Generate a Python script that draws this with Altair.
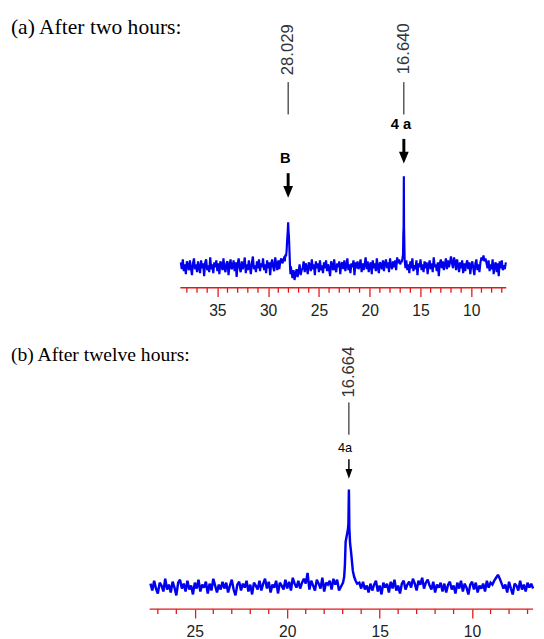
import altair as alt
import numpy as np
import pandas as pd

# ---------------- data: panel (a) ----------------
a_title = "(a) After two hours:"
a_grid_start, a_grid_step = 38.6, 0.1          # ppm of first noise sample, spacing
a_noise = [
    4, -3, 7, -5, 2, -8, 5, 1, -4, 6, -2, -9, 3, 8, -3, 2, -6, 5, -1, -7,
    6, -2, 3, -10, 4, 7, -4, 1, -6, 9, -3, 2, -7, 4, -1, 6, -5, 3, -8, 5,
    2, -4, 8, -2, -6, 3, 5, -9, 1, 7, -3, -1, 6, -5, 4, -11, 3, 8, -2, -6,
    5, -3, 1, 9, -7, 2, -4, 6, -1, -8, 4, 10, -3, 1, -6, 5, -2, 7, -5, 3,
    -1, 8, -4, 2, -7, 6, -2, 4, -9, 3, 7, -1, -5, 9, 2, -4, 6, -3, 5, 8,
    3, 6, 10, 0, 0, 0, 0, 0, 0, -6, -12, -4, -14, -8, -3, -11, -5, 2, -9, -4,
    -2, 5, -6, 3, -1, -8, 4, 1, -5, 7, -3, 2, -9, 5, -2, 3, -6, 6, -4, 1,
    -7, 4, -2, 6, -5, 2, -3, -10, 5, 1, -4, 7, -2, -6, 3, -1, 5, -8, 2, 4,
    -3, 6, -5, 1, 8, -4, 2, -7, 3, -1, 6, -9, 4, -2, 5, -3, 1, 7, -6, 3,
    -4, 2, 9, -3, 5, -6, 1, 4, -8, 6, -2, 3, -5, 8, -1, -7, 4, 2, -3, 6,
    -5, 3, 7, -2, 4, -6, 8, 1, -3, 5, -1, 6, -4, 9, 3, 7, 2, 5, 0, 0,
    0, 0, 6, -4, 2, -7, 5, -2, 8, -5, 1, -3, 6, -9, 3, -1, 7, -4, 2, -6,
    5, -2, 4, -8, 1, 6, -3, 3, -6, 9, -1, 2, -5, 4, -10, 3, 7, -2, 5, -4,
    2, 8, -3, 6, -1, 4, 10, 3, -2, 9, 5, -4, 7, 1, -6, 4, -2, 6, -7, 3,
    -5, 2, 6, -3, 4, -8, 1, 5, -2, -9, 3, 7, -4, 2, -6, 4, 9, 6, 11, 5,
    8, 3, -2, 6, -5, 2, -3, 7, -8, 1, 4, -6, 3, -10, 5, -2, 6, -4, 1, -3,
    4,
]
# peak B
a_pkB_ppm = [28.36, 28.30, 28.24, 28.18, 28.12, 28.07, 28.029, 27.99, 27.95, 27.92, 27.88, 27.84, 27.80, 27.76]
a_pkB_int = [5, 12, 10, 16, 28, 36, 45, 36, 30, 22, 10, -2, -8, 0]
# peak 4a
a_pk4_ppm = [16.86, 16.78, 16.72, 16.69, 16.665, 16.640, 16.62, 16.60, 16.56, 16.48]
a_pk4_int = [4, 8, 12, 34, 40, 92, 40, 30, 6, -2]
a_windows = [(28.029, 0.3), (16.64, 0.2)]

a_major = [35, 30, 25, 20, 15, 10]
a_minor = [38, 37, 36, 34, 33, 32, 31, 29, 28, 27, 26, 24, 23, 22, 21,
           19, 18, 17, 16, 14, 13, 12, 11, 9, 8, 7]
a_span = [38.64, 6.56]
a_shift_ppm = [28.029, 16.640]
a_shift_txt = ["28.029", "16.640"]
a_names = ["B", "4 a"]

# ---------------- data: panel (b) ----------------
b_title = "(b) After twelve hours:"
b_grid_start, b_grid_step = 27.4, 0.1
b_noise = [
    3, -4, 6, -2, -7, 4, 1, -5, 8, -3, 2, -6, 5, -1, -9, 4, 7, -2, 3, -5,
    6, -3, 1, -8, 4, -2, 7, -5, 2, -1, 5, -7, 3, -4, 8, 1, -6, 2, -3, 5,
    -2, 4, -6, 1, 7, -3, -9, 2, 5, -4, 3, -1, 6, -5, 2, -8, 4, 1, -3, 6,
    -4, 3, 8, -2, 5, -6, 2, -1, 6, -7, 4, 1, -3, 7, -2, 5, -4, 9, 3, -1,
    6, -2, 4, 8, 3, 14, -3, 6, 1, -4, 7, 3, -2, 9, -5, 4, 2, 6, -3, 8,
    2, 7, -4, 0, 0, 0, 0, 0, 0, 0, 0, 0, 0, 4, -2, 5, -3, 1, -6, 3,
    -4, 2, 6, -5, 1, -8, 4, -1, 3, -6, 5, -2, 7, -4, 1, -7, 3, 6, -3, 2,
    5, -1, 8, 3, -4, 6, 2, 9, -2, 4, 7, 1, -3, 5, -6, 2, -1, 4, -5, 3,
    -6, 2, 5, -3, 1, -7, 4, -2, 6, -5, 3, -1, -8, 2, 5, -3, 4, -6, 1, -2,
    3, -5, 6, -1, 4, 2, 6, 9, 12, 8, 3, -2, 2, -6, 5, -2, -8, 3, 1, -4,
    6, -3, 2, -5, 4, -1, 3, -2,
]
b_pk_ppm = [16.98, 16.92, 16.88, 16.84, 16.78, 16.72, 16.69, 16.664, 16.64, 16.60,
            16.55, 16.50, 16.45, 16.38, 16.30, 16.22]
b_pk_int = [4, 10, 22, 46, 52, 58, 64, 99, 60, 44, 36, 26, 16, 10, 6, 3]
b_windows = [(16.664, 0.5)]

b_major = [25, 20, 15, 10]
b_minor = [27, 26, 24, 23, 22, 21, 19, 18, 17, 16, 14, 13, 12, 11, 9, 8, 7]
b_span = [27.44, 6.70]
b_shift_ppm = [16.664]
b_shift_txt = ["16.664"]
b_names = ["4a"]

# ---------------- styling / layout ----------------
BLUE = "#0000ee"
RED = "#e01818"
INK = "#222222"
W = 536


def spectrum(start, step, noise, windows, pk_lists):
    ppm = np.round(start - step * np.arange(len(noise)), 3)
    df = pd.DataFrame({"ppm": ppm, "I": noise})
    keep = np.ones(len(df), dtype=bool)
    for c, w in windows:
        keep &= np.abs(df["ppm"].values - c) >= w
    parts = [df[keep]] + [pd.DataFrame({"ppm": p, "I": v}) for p, v in pk_lists]
    return pd.concat(parts).sort_values("ppm", ascending=False).reset_index(drop=True)


def panel(spec, H, xdom, ydom, major, minor, span, title, title_y, title_size,
          shifts, shift_txt, names, lv, name_style, arrow_w, head_size, head_path, lw):
    xs = alt.Scale(domain=xdom, reverse=True, nice=False, zero=False)
    ys = alt.Scale(domain=ydom, nice=False, zero=False)
    ax = alt.Axis(values=major, tickSize=9, tickColor=RED, tickWidth=1.3, domain=False,
                  grid=False, labelFont="Liberation Sans", labelFontSize=16,
                  labelColor=INK, labelPadding=6, title=None, labelFlush=False)

    def X(f):
        return alt.X(f, type="quantitative", scale=xs, axis=ax)

    def Y(f):
        return alt.Y(f, type="quantitative", scale=ys, axis=None)

    line = alt.Chart(spec).mark_line(color=BLUE, strokeWidth=lw, strokeJoin="miter",
                                     strokeMiterLimit=2).encode(x=X("ppm"), y=Y("I"))
    dom = alt.Chart(pd.DataFrame({"x0": [span[0]], "x1": [span[1]]})).mark_rule(
        color=RED, strokeWidth=1.5).encode(x=X("x0"), x2="x1", y=alt.value(H))
    mticks = alt.Chart(pd.DataFrame({"t": minor})).mark_rule(
        color=RED, strokeWidth=1.3).encode(x=X("t"), y=alt.value(H), y2=alt.value(H + 5))

    ann = pd.DataFrame({"ppm": shifts, "txt": shift_txt, "name": names,
                        "num_y": lv["num"], "l0": lv["l0"], "l1": lv["l1"],
                        "nm": lv["name"], "s0": lv["s0"], "s1": lv["s1"], "hd": lv["head"]})
    base = alt.Chart(ann)
    num = base.mark_text(angle=270, font="Liberation Sans", fontSize=17, color="#333333",
                         align="center", baseline="middle").encode(x=X("ppm"), y=Y("num_y"), text="txt")
    lead = base.mark_rule(color="black", strokeWidth=1).encode(x=X("ppm"), y=Y("l0"), y2="l1")
    nm = base.mark_text(color="black", align="center", baseline="middle",
                        **name_style).encode(x=X("ppm"), y=Y("nm"), text="name")
    shaft = base.mark_rule(color="black", strokeWidth=arrow_w).encode(x=X("ppm"), y=Y("s0"), y2="s1")
    head = base.mark_point(shape=head_path, filled=True, color="black", opacity=1,
                           size=head_size).encode(x=X("ppm"), y=Y("hd"))
    ttl = alt.Chart(pd.DataFrame({"t": [title]})).mark_text(
        font="Liberation Serif", fontSize=title_size, color="black", align="left",
        baseline="alphabetic").encode(x=alt.value(3), y=alt.value(title_y), text="t")
    return alt.layer(line, dom, mticks, lead, num, nm, shaft, head, ttl).properties(width=W, height=H)


def xdomain(ref_ppm, ref_px, px_per_ppm):
    return [ref_ppm - (W - ref_px) / px_per_ppm, ref_ppm + ref_px / px_per_ppm]


spec_a = spectrum(a_grid_start, a_grid_step, a_noise, a_windows,
                  [(a_pkB_ppm, a_pkB_int), (a_pk4_ppm, a_pk4_int)])
spec_b = spectrum(b_grid_start, b_grid_step, b_noise, b_windows, [(b_pk_ppm, b_pk_int)])

HA, HB = 279, 281
lv_a = {"num": [221, 222], "l0": [188, 188], "l1": [155, 155], "name": [110, 145],
        "s0": [95, 130], "s1": [80, 115], "head": [76, 111]}
lv_b = {"num": [219], "l0": [188], "l1": [155], "name": [141],
        "s0": [130], "s1": [118], "head": [115]}

pa = panel(spec_a, HA, xdomain(35, 213.7, 10.37), [-22, HA - 22], a_major, a_minor, a_span,
           a_title, 20, 22, a_shift_ppm, a_shift_txt, a_names, lv_a,
           dict(font="Liberation Sans", fontSize=15, fontWeight="bold", dx=-3),
           3, 144, "M-0.83,-1L0.83,-1L0,1Z", 2.2)
pb = panel(spec_b, HB, xdomain(25, 190.7, 18.87), [-23, HB - 23], b_major, b_minor, b_span,
           b_title, 28, 20, b_shift_ppm, b_shift_txt, b_names, lv_b,
           dict(font="Liberation Sans", fontSize=13, dx=-4),
           1.5, 100, "M-0.7,-1L0.7,-1L0,1Z", 2.5)

chart = alt.vconcat(pa, pb, spacing=16).resolve_scale(
    x="independent", y="independent").properties(
    padding=0, background="white").configure_view(stroke="transparent", strokeWidth=0)

chart.save("out.html", embed_options={"renderer": "svg", "actions": False})
